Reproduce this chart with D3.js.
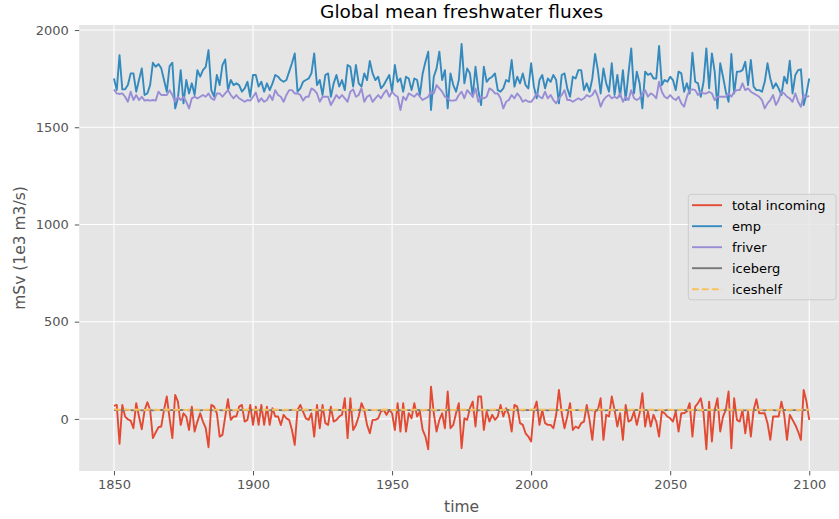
<!DOCTYPE html>
<html>
<head>
<meta charset="utf-8">
<script src="https://cdn.jsdelivr.net/npm/d3@7"></script>
<style>
  html, body { margin: 0; padding: 0; background: #fff; }
  svg { display: block; font-family: "DejaVu Sans", sans-serif; }
</style>
</head>
<body>
<svg id="chart" width="839" height="519"></svg>
<script>
// Yearly global-mean freshwater fluxes, 1850-2100, in mSv (1e3 m3/s)
const startYear = 1850;

const totalIncoming = [
  67,72,-128,72,12,-2,-9,-48,81,12,
  -53,43,86,46,-99,-70,-43,-39,46,115,
  3,-99,123,89,-31,29,12,-57,63,-65,
  -14,29,-14,-48,-146,72,63,29,-91,-82,
  12,101,-5,12,12,63,72,-14,-5,72,
  -31,63,-31,72,-31,63,-31,55,12,12,
  -31,21,3,-5,-57,-134,46,72,38,3,
  -5,29,-91,72,-48,72,-22,-31,63,-14,
  -5,12,21,106,-99,106,-57,-31,12,81,
  46,-31,-74,-5,-5,3,38,46,21,46,
  29,-57,81,-65,81,-65,29,3,81,12,
  38,-57,-91,-156,166,29,-65,-5,29,-48,
  141,-48,-31,29,81,-151,3,-5,55,89,
  -39,115,115,-57,38,-14,21,-5,12,72,
  12,55,21,-65,72,63,-22,-31,-74,-91,
  -116,46,89,-31,46,-22,-31,-31,-48,21,
  149,29,-48,12,81,-57,-39,-48,-22,-14,
  72,-5,-108,38,46,106,-108,21,12,115,
  46,-39,29,-108,72,-14,-5,38,-31,29,
  132,-39,38,-39,21,-14,-91,38,29,12,
  3,-14,38,-65,29,29,38,81,-91,63,
  81,106,29,-156,89,-116,46,106,-65,12,
  46,141,-151,106,-5,-14,46,-74,38,-91,
  46,101,29,29,29,-22,-108,12,12,12,
  89,21,-108,21,-5,-31,-65,-108,149,89,
  -5
];

const emp = [
  1751,1691,1871,1695,1695,1717,1777,1777,1683,1743,
  1803,1666,1674,1717,1832,1811,1825,1803,1743,1683,
  1815,1832,1597,1649,1794,1623,1743,1674,1726,1666,
  1794,1760,1794,1811,1897,1691,1657,1769,1717,1820,
  1849,1691,1743,1717,1726,1717,1683,1700,1734,1657,
  1769,1769,1709,1734,1683,1726,1691,1726,1769,1760,
  1743,1734,1743,1786,1829,1880,1683,1700,1734,1743,
  1751,1777,1880,1717,1743,1666,1769,1777,1657,1726,
  1769,1709,1743,1691,1820,1811,1709,1820,1726,1709,
  1777,1743,1841,1777,1743,1760,1700,1717,1743,1769,
  1683,1820,1734,1751,1683,1760,1751,1691,1751,1743,
  1666,1777,1837,1889,1589,1760,1803,1889,1743,1794,
  1597,1777,1717,1683,1743,1928,1726,1803,1777,1657,
  1811,1691,1614,1811,1734,1751,1760,1777,1691,1683,
  1700,1743,1734,1846,1709,1760,1726,1777,1717,1700,
  1829,1709,1649,1743,1769,1700,1751,1734,1769,1743,
  1623,1769,1777,1700,1657,1760,1751,1794,1794,1691,
  1726,1683,1751,1877,1794,1674,1803,1726,1683,1829,
  1666,1769,1657,1794,1640,1777,1906,1674,1786,1726,
  1597,1786,1769,1777,1751,1751,1918,1717,1743,1734,
  1760,1743,1691,1786,1777,1683,1726,1674,1883,1734,
  1726,1657,1734,1906,1700,1880,1786,1597,1829,1760,
  1683,1631,1877,1674,1786,1786,1794,1837,1717,1846,
  1709,1691,1691,1683,1734,1829,1751,1700,1726,1700,
  1666,1760,1726,1842,1674,1769,1794,1798,1614,1674,
  1751
];

const friver = [
  1695,1674,1671,1674,1657,1631,1683,1640,1666,1640,
  1657,1637,1640,1637,1640,1637,1683,1666,1666,1666,
  1691,1666,1631,1657,1640,1657,1631,1597,1649,1657,
  1649,1657,1666,1657,1674,1649,1640,1674,1674,1657,
  1674,1691,1666,1649,1666,1649,1640,1631,1640,1637,
  1657,1678,1631,1649,1631,1640,1666,1640,1691,1666,
  1657,1631,1666,1691,1691,1674,1674,1666,1637,1657,
  1657,1700,1691,1674,1631,1657,1657,1657,1614,1640,
  1666,1649,1666,1649,1631,1683,1695,1657,1666,1700,
  1631,1657,1666,1631,1649,1666,1649,1674,1691,1657,
  1683,1666,1657,1589,1657,1640,1674,1666,1657,1674,
  1657,1640,1649,1657,1683,1674,1717,1700,1683,1657,
  1649,1637,1637,1640,1666,1683,1649,1691,1674,1657,
  1700,1631,1657,1649,1657,1700,1691,1674,1674,1649,
  1597,1631,1640,1666,1649,1674,1657,1631,1640,1631,
  1631,1649,1674,1657,1649,1683,1649,1666,1640,1623,
  1649,1666,1691,1640,1640,1631,1640,1649,1640,1649,
  1666,1657,1666,1691,1657,1606,1640,1657,1666,1649,
  1657,1649,1674,1631,1657,1640,1691,1649,1640,1649,
  1674,1691,1657,1674,1666,1649,1734,1683,1657,1649,
  1666,1649,1640,1657,1623,1606,1657,1691,1695,1691,
  1666,1683,1674,1674,1683,1674,1640,1657,1657,1657,
  1657,1674,1657,1683,1691,1691,1726,1691,1700,1683,
  1674,1666,1657,1640,1597,1623,1640,1666,1614,1640,
  1683,1674,1657,1649,1631,1674,1631,1606,1666,1657,
  1660
];

const iceberg = [
  46,45,45,44,45,46,45,44,45,45,
  44,45,46,45,44,45,45,46,45,44,
  45,45,44,45,46,45,45,44,45,46,
  45,44,45,45,46,45,44,45,45,44,
  45,46,45,44,45,45,46,45,44,45,
  45,44,45,46,45,45,44,45,45,46,
  45,44,45,45,46,45,44,45,45,44,
  45,46,45,45,44,45,46,45,44,45,
  45,46,45,44,45,45,44,45,46,45,
  44,45,45,46,45,44,45,45,46,45,
  44,45,45,44,46,45,45,44,45,46,
  45,44,45,45,46,45,44,45,45,44,
  45,46,45,44,45,45,46,45,44,45,
  45,44,46,45,45,44,45,46,45,44,
  45,45,46,45,44,45,45,44,46,45,
  45,44,45,46,45,45,44,45,45,46,
  45,44,45,45,44,46,45,45,44,45,
  46,45,44,45,45,46,45,44,45,45,
  44,45,46,45,45,44,45,45,46,45,
  44,45,45,46,45,44,45,45,44,46,
  45,45,44,45,46,45,44,45,45,46,
  45,44,45,45,44,46,45,45,44,45,
  46,45,44,45,45,46,45,44,45,45,
  44,46,45,45,44,45,46,45,44,45,
  45,46,45,44,45,45,44,46,45,45,
  45
];

const iceshelf = [
  50,48,47,47,48,47,46,47,48,47,
  47,46,47,48,47,47,46,47,47,48,
  47,46,47,47,48,47,46,47,47,47,
  48,47,46,47,47,48,47,47,46,47,
  47,48,47,46,47,47,47,48,47,46,
  47,47,48,47,46,47,47,47,48,47,
  46,47,47,48,47,47,46,47,47,48,
  47,46,47,47,47,48,47,46,47,47,
  48,47,47,46,47,47,48,47,46,47,
  47,47,48,47,46,47,47,48,47,47,
  46,47,47,48,47,46,47,47,47,48,
  47,46,47,47,48,47,47,46,47,47,
  48,47,46,47,47,47,48,47,46,47,
  47,48,47,47,46,47,47,48,47,46,
  47,47,47,48,47,46,47,47,48,47,
  48,49,48,48,47,48,48,49,48,47,
  46,47,46,46,47,46,46,47,46,46,
  47,48,47,46,47,47,48,47,46,47,
  47,47,48,47,46,47,47,48,47,47,
  46,47,47,48,47,46,47,47,47,48,
  47,46,47,47,48,47,47,46,47,47,
  48,47,46,47,47,47,48,47,46,47,
  47,48,47,47,46,47,47,48,47,46,
  47,47,47,48,47,46,47,47,48,47,
  47,46,47,47,48,47,46,47,47,47,
  47
];

const years = d3.range(startYear, startYear + emp.length);
const xTicks = [1850, 1900, 1950, 2000, 2050, 2100];
const yTicks = [0, 500, 1000, 1500, 2000];

const seriesNames  = ["total incoming", "emp", "friver", "iceberg", "iceshelf"];
const seriesValues = [totalIncoming, emp, friver, iceberg, iceshelf];
const seriesColors = ["#E24A33", "#348ABD", "#988ED5", "#777777", "#FBC15E"];
const seriesDashes = [null, null, null, null, "6.9,3"];

const W = 839, H = 519;
const plot = { left: 79.2, right: 844, top: 25, bottom: 471 };

const svg = d3.select("#chart");

const x = d3.scaleLinear().domain([1837.5, 2112.5]).range([plot.left, plot.right]);
const y = d3.scaleLinear().domain([-268, 2026]).range([plot.bottom, plot.top]);

svg.append("defs").append("clipPath").attr("id", "plotClip")
  .append("rect")
  .attr("x", plot.left).attr("y", plot.top)
  .attr("width", plot.right - plot.left).attr("height", plot.bottom - plot.top);

// panel background
svg.append("rect")
  .attr("x", plot.left).attr("y", plot.top)
  .attr("width", plot.right - plot.left).attr("height", plot.bottom - plot.top)
  .attr("fill", "#E5E5E5");

// grid
const grid = svg.append("g").attr("stroke", "#ffffff").attr("stroke-width", 1.1);
grid.selectAll(".gx").data(xTicks).join("line")
  .attr("x1", d => x(d)).attr("x2", d => x(d))
  .attr("y1", plot.top).attr("y2", plot.bottom);
grid.selectAll(".gy").data(yTicks).join("line")
  .attr("x1", plot.left).attr("x2", plot.right)
  .attr("y1", d => y(d)).attr("y2", d => y(d));

// axes
const xAxis = svg.append("g")
  .attr("transform", `translate(0,${plot.bottom})`)
  .call(d3.axisBottom(x).tickValues(xTicks).tickFormat(d3.format("d")).tickSize(4.4).tickPadding(4.4));
const yAxis = svg.append("g")
  .attr("transform", `translate(${plot.left},0)`)
  .call(d3.axisLeft(y).tickValues(yTicks).tickFormat(d3.format("d")).tickSize(4.4).tickPadding(6));
[xAxis, yAxis].forEach(g => {
  g.select(".domain").remove();
  g.selectAll(".tick line").attr("stroke", "#555555").attr("stroke-width", 1);
  g.selectAll(".tick text")
    .attr("fill", "#555555")
    .style("font-family", "DejaVu Sans")
    .style("font-size", "13px");
});

// series
const line = d3.line().x((d, i) => x(years[i])).y(d => y(d));
const lines = svg.append("g").attr("clip-path", "url(#plotClip)");
seriesValues.forEach((vals, k) => {
  lines.append("path")
    .datum(vals)
    .attr("d", line)
    .attr("fill", "none")
    .attr("stroke", seriesColors[k])
    .attr("stroke-width", 1.9)
    .attr("stroke-linejoin", "round")
    .attr("stroke-dasharray", seriesDashes[k]);
});

// legend
const legend = svg.append("g");
legend.append("rect")
  .attr("x", 688.3).attr("y", 194.3)
  .attr("width", 147.7).attr("height", 105.5)
  .attr("rx", 3).attr("ry", 3)
  .attr("fill", "#E5E5E5").attr("fill-opacity", 0.8)
  .attr("stroke", "#CCCCCC").attr("stroke-width", 1);
seriesNames.forEach((name, k) => {
  const cy = 205.2 + k * 21;
  legend.append("line")
    .attr("x1", 692).attr("x2", 722)
    .attr("y1", cy).attr("y2", cy)
    .attr("stroke", seriesColors[k]).attr("stroke-width", 1.9)
    .attr("stroke-dasharray", seriesDashes[k]);
  legend.append("text")
    .attr("x", 732).attr("y", cy).attr("dy", "0.35em")
    .attr("fill", "#000")
    .style("font-size", "13px")
    .text(name);
});

// titles
const cx = (plot.left + plot.right) / 2;
svg.append("text")
  .attr("x", cx).attr("y", 17.5)
  .attr("text-anchor", "middle")
  .attr("fill", "#000")
  .style("font-size", "18.5px")
  .text("Global mean freshwater fluxes");
svg.append("text")
  .attr("x", cx).attr("y", 512)
  .attr("text-anchor", "middle")
  .attr("fill", "#555555")
  .style("font-size", "15.5px")
  .text("time");
svg.append("text")
  .attr("transform", `translate(19.5,${(plot.top + plot.bottom) / 2}) rotate(-90)`)
  .attr("text-anchor", "middle")
  .attr("dy", "0.35em")
  .attr("fill", "#555555")
  .style("font-size", "15.5px")
  .text("mSv (1e3 m3/s)");
</script>
</body>
</html>
